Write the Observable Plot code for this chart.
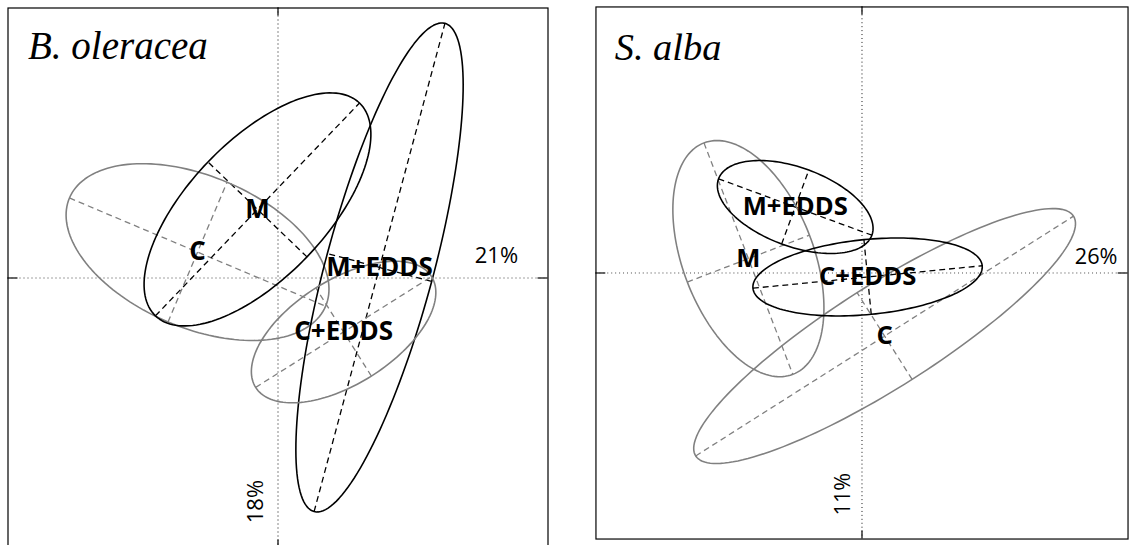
<!DOCTYPE html>
<html><head><meta charset="utf-8">
<script src="https://cdn.jsdelivr.net/npm/d3@7"></script>
<script src="https://cdn.jsdelivr.net/npm/@observablehq/plot@0.6"></script>
<style>
html,body{margin:0;padding:0;background:#fff;overflow:hidden;width:1130px;height:545px}
#wrap{position:relative;width:1130px;height:545px;overflow:hidden}
.panel{position:absolute}
.panel svg{overflow:visible}
</style></head><body><div id="wrap"></div>
<script>
// ---- data (ordination scores) ----
const groups = ["C", "M", "M+EDDS", "C+EDDS"];
const panelTitles = ["B. oleracea", "S. alba"];
const axis1Pct = ["21%", "26%"];
const axis2Pct = ["18%", "11%"];

// B. oleracea: ellipse centres, semi-axes, orientation (deg)
const oleraceaCx = [-2.98, -0.76, 3.76, 2.43];
const oleraceaCy = [0.96, 2.54, 0.39, -2.0];
const oleraceaMajor = [5.15, 5.46, 9.36, 3.85];
const oleraceaMinor = [2.81, 2.54, 2.0, 1.93];
const oleraceaAngle = [-22.9, 46.2, 75, 32.2];

// S. alba
const albaCx = [0.85, -4.27, -2.51, 0.21];
const albaCy = [-2.37, 0.54, 2.48, -0.15];
const albaMajor = [8.41, 4.66, 3.07, 4.33];
const albaMinor = [1.93, 2.46, 1.48, 1.41];
const albaAngle = [32.4, -69, -20.2, 5.6];

// groups drawn in grey (others black)
const oleraceaGrey = ["C", "C+EDDS"];
const albaGrey = ["C", "M"];

function build(cx, cy, a, b, ang, grey) {
  const rows = [], axes = [], labels = [];
  groups.forEach((g, i) => {
    const th = ang[i] * Math.PI / 180, c = Math.cos(th), s = Math.sin(th);
    const color = grey.includes(g) ? "#808080" : "#000000";
    const n = 160;
    for (let k = 0; k <= n; k++) {
      const t = 2 * Math.PI * k / n;
      rows.push({g, color,
        x: cx[i] + a[i] * Math.cos(t) * c - b[i] * Math.sin(t) * s,
        y: cy[i] + a[i] * Math.cos(t) * s + b[i] * Math.sin(t) * c});
    }
    axes.push({g, color, x1: cx[i] - a[i] * c, y1: cy[i] - a[i] * s, x2: cx[i] + a[i] * c, y2: cy[i] + a[i] * s});
    axes.push({g, color, x1: cx[i] + b[i] * s, y1: cy[i] - b[i] * c, x2: cx[i] - b[i] * s, y2: cy[i] + b[i] * c});
    labels.push({g, x: cx[i], y: cy[i]});
  });
  return {rows, axes, labels};
}

function panel(d, title, p1, p2, pos) {
  return Plot.plot({
    width: 545, height: 545,
    marginTop: 2.5, marginLeft: 2.5, marginRight: 2.5, marginBottom: 2.5,
    x: {domain: [-10, 10], axis: null},
    y: {domain: [-10, 10], axis: null},
    color: {type: "identity"},
    style: {background: "transparent"},
    marks: [
      Plot.ruleX([0], {stroke: "#111", strokeDasharray: "1,3", strokeWidth: 1}),
      Plot.ruleY([0], {stroke: "#444", strokeDasharray: "1,3", strokeWidth: 1}),
      Plot.ruleY([0], {x1: -10, x2: -9.63, stroke: "#444", strokeWidth: 1.6}),
      Plot.ruleY([0], {x1: 9.63, x2: 10, stroke: "#444", strokeWidth: 1.6}),
      Plot.ruleX([0], {y1: 9.7, y2: 10, stroke: "#222", strokeWidth: 1.4}),
      Plot.ruleX([0], {y1: -10, y2: -9.7, stroke: "#222", strokeWidth: 1.4}),
      Plot.link(d.axes, {x1: "x1", y1: "y1", x2: "x2", y2: "y2", stroke: "color", strokeDasharray: "6,4", strokeWidth: 1.3}),
      Plot.line(d.rows, {x: "x", y: "y", z: "g", stroke: "color", strokeWidth: 1.6}),
      Plot.text(d.labels, {x: "x", y: "y", text: "g", fontFamily: "Open Sans", fontWeight: "bold", fontSize: 26, fill: "#000"}),
      Plot.text([p1], {x: pos.p1x, y: pos.p1y, text: d => d, fontFamily: "Open Sans", fontSize: 22, fill: "#000"}),
      Plot.text([p2], {x: pos.p2x, y: pos.p2y, text: d => d, rotate: -90, fontFamily: "Open Sans", fontSize: 22, fill: "#000"}),
      Plot.text([title], {frameAnchor: "top-left", dx: pos.tdx, dy: pos.tdy, lineAnchor: "top", textAnchor: "start", text: d => d,
        fontFamily: "Liberation Serif", fontStyle: "italic", fontSize: 39, fill: "#000"}),
      Plot.frame({stroke: "#000", strokeWidth: 1.2})
    ]
  });
}

const wrap = document.getElementById("wrap");
const left = panel(build(oleraceaCx, oleraceaCy, oleraceaMajor, oleraceaMinor, oleraceaAngle, oleraceaGrey),
  panelTitles[0], axis1Pct[0], axis2Pct[0], {p1x: 8.09, p1y: 0.8, p2x: -0.83, p2y: -8.28, tdx: 20, tdy: 23.5});
const right = panel(build(albaCx, albaCy, albaMajor, albaMinor, albaAngle, albaGrey),
  panelTitles[1], axis1Pct[1], axis2Pct[1], {p1x: 8.8, p1y: 0.61, p2x: -0.72, p2y: -8.31, tdx: 19, tdy: 26});
const dl = document.createElement("div"); dl.className = "panel"; dl.style.left = "5px"; dl.style.top = "5px"; dl.appendChild(left);
const dr = document.createElement("div"); dr.className = "panel"; dr.style.left = "593px"; dr.style.top = "4px"; dr.appendChild(right);
wrap.appendChild(dl); wrap.appendChild(dr);
</script>
</body></html>
